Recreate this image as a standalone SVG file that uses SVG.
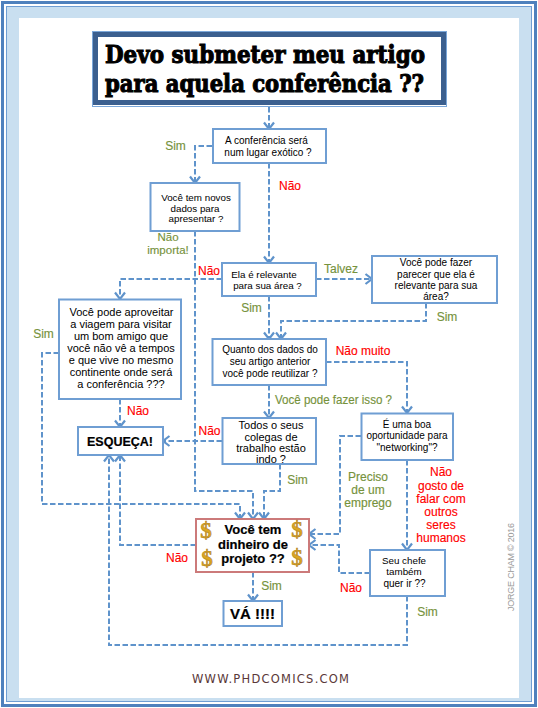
<svg xmlns="http://www.w3.org/2000/svg" width="538" height="708" viewBox="0 0 538 708">
<style>
text{font-family:"Liberation Sans",Arial,sans-serif;text-anchor:middle;fill:#000}
.t{font-size:10px}
.l{font-size:11px}
.m{font-size:9.800px}
.b{font-size:13px;font-weight:bold;stroke:#000;stroke-width:.2}
.box{fill:#fff;stroke:#6f9ed3;stroke-width:2}
.c{fill:none;stroke:#5f93cb;stroke-width:2;stroke-dasharray:5.5 2.5}
.s{font-size:12px;fill:#76923c;stroke:#76923c;stroke-width:.15}
.n{font-size:12px;fill:#f00;stroke:#f00;stroke-width:.15}
.d{font-size:23px;font-weight:bold;fill:#dba621;stroke:#a8791a;stroke-width:.5;font-family:"Liberation Serif",serif}
.h{font-family:"DejaVu Serif",serif;font-weight:bold;font-size:25px;stroke:#000;stroke-width:1.100;text-anchor:start}
</style>
<defs>
<marker id="a" markerUnits="userSpaceOnUse" markerWidth="14" markerHeight="14" refX="10" refY="7" orient="auto">
<path d="M3.500 2L10 7L3.500 12" fill="none" stroke="#5f93cb" stroke-width="2.200"/>
</marker>
</defs>
<g id="frame">
<rect x="0" y="0" width="538" height="708" fill="#fff"/>
<rect x="2.500" y="2.500" width="533" height="703" fill="none" stroke="#4f81bd" stroke-width="3"/>
<rect x="6.500" y="6.500" width="525" height="695" fill="#c9dff0" stroke="#6f9ed3" stroke-width="1"/>
<rect x="19" y="18" width="500" height="680" fill="#fff"/>
</g>
<g id="connectors">
<path class="c" d="M269 107V129" marker-end="url(#a)"/>
<path class="c" d="M212 146H195V183" marker-end="url(#a)"/>
<path class="c" d="M269 163V263" marker-end="url(#a)"/>
<path class="c" d="M195 231V491H253V519" marker-end="url(#a)"/>
<path class="c" d="M222 279H120V299" marker-end="url(#a)"/>
<path class="c" d="M316 279H372" marker-end="url(#a)"/>
<path class="c" d="M269 296V339" marker-end="url(#a)"/>
<path class="c" d="M426 303V321H281V339" marker-end="url(#a)"/>
<path class="c" d="M326 362H407V413" marker-end="url(#a)"/>
<path class="c" d="M269 385V418" marker-end="url(#a)"/>
<path class="c" d="M222 441H163" marker-end="url(#a)"/>
<path class="c" d="M280 464V491H264V519" marker-end="url(#a)"/>
<path class="c" d="M59 353H42V504H240V519" marker-end="url(#a)"/>
<path class="c" d="M120 399V427" marker-end="url(#a)"/>
<path class="c" d="M196 545H120V455" marker-end="url(#a)"/>
<path class="c" d="M407 596V645H109V455" marker-end="url(#a)"/>
<path class="c" d="M361 436H340V534H309" marker-end="url(#a)"/>
<path class="c" d="M407 460V550" marker-end="url(#a)"/>
<path class="c" d="M370 573H339V545H309" marker-end="url(#a)"/>
<path class="c" d="M253 572V601" marker-end="url(#a)"/>
</g>
<g id="n-title">
<rect x="92.500" y="31.500" width="354" height="75" fill="#fff" stroke="#7ba7d9" stroke-width="1"/>
<rect x="95.500" y="34.500" width="348" height="68" fill="#fff" stroke="#3b5f8f" stroke-width="5"/>
<text class="h" x="105" y="63" textLength="320" lengthAdjust="spacingAndGlyphs">Devo submeter  meu artigo</text>
<text class="h" x="105" y="92" textLength="319" lengthAdjust="spacingAndGlyphs">para aquela conferência ??</text>
</g>
<g id="n-exotico">
<rect class="box" x="213" y="129" width="113" height="34"/>
<text class="t" x="266.500" y="144">A conferência  será</text>
<text class="t" x="268" y="155.500">num lugar  exótico  ?</text>
</g>
<g id="n-novos">
<rect class="box" x="150.500" y="183" width="89" height="48"/>
<text class="m" x="196" y="201">Você tem novos</text>
<text class="m" x="195" y="211.500">dados  para</text>
<text class="m" x="196" y="222">apresentar ?</text>
</g>
<g id="n-relevante">
<rect class="box" x="222" y="263" width="94" height="33"/>
<text class="m" x="264" y="278">Ela é relevante</text>
<text class="m" x="267.500" y="289">para sua área  ?</text>
</g>
<g id="n-fazer">
<rect class="box" x="372" y="256" width="125" height="47"/>
<text class="t" x="436" y="266">Você pode  fazer</text>
<text class="t" x="436" y="277.500">parecer que ela é</text>
<text class="t" x="436" y="289">relevante  para sua</text>
<text class="t" x="436" y="300">área?</text>
</g>
<g id="n-aproveitar">
<rect class="box" x="59" y="299.500" width="122" height="99.500"/>
<text class="l" x="121.500" y="316">Você pode aproveitar</text>
<text class="l" x="121" y="328">a viagem para visitar</text>
<text class="l" x="121" y="340">um bom amigo que</text>
<text class="l" x="121" y="352">você não vê a tempos</text>
<text class="l" x="121" y="364">e que vive no mesmo</text>
<text class="l" x="121" y="376">continente onde será</text>
<text class="l" x="121" y="388">a conferência ???</text>
</g>
<g id="n-quanto">
<rect class="box" x="212.500" y="339" width="113.500" height="46"/>
<text class="t" x="270" y="353">Quanto  dos dados do</text>
<text class="t" x="270" y="365">seu artigo  anterior</text>
<text class="t" x="270" y="377">você pode  reutilizar  ?</text>
</g>
<g id="n-esqueca">
<rect class="box" x="78" y="427" width="85" height="28"/>
<text class="b" x="120" y="446" textLength="66" lengthAdjust="spacingAndGlyphs">ESQUEÇA!</text>
</g>
<g id="n-todos">
<rect class="box" x="222.500" y="418" width="93.500" height="46"/>
<text class="l" x="271" y="428.500">Todos  o seus</text>
<text class="l" x="271" y="440.500">colegas de</text>
<text class="l" x="271" y="452">trabalho estão</text>
<text class="l" x="271" y="463">indo ?</text>
</g>
<g id="n-networking">
<rect class="box" x="361.500" y="413.500" width="91.500" height="46.500"/>
<text class="t" x="407" y="427.500">É uma boa</text>
<text class="t" x="407" y="439">oportunidade  para</text>
<text class="t" x="407" y="451">"networking"?</text>
</g>
<g id="n-dinheiro">
<rect x="196" y="519" width="113" height="53" fill="#fff" stroke="#cc7a7a" stroke-width="2"/>
<text class="b" x="253" y="534">Você tem</text>
<text class="b" x="253" y="548.500">dinheiro de</text>
<text class="b" x="253" y="563">projeto ??</text>
<text class="d" x="206" y="538">$</text>
<text class="d" x="207" y="566">$</text>
<text class="d" x="297" y="537">$</text>
<text class="d" x="297" y="565">$</text>
</g>
<g id="n-chefe">
<rect class="box" x="370" y="550" width="75" height="46"/>
<text class="m" x="404" y="564">Seu chefe</text>
<text class="m" x="404" y="575">também</text>
<text class="t" x="404.500" y="587">quer ir ??</text>
</g>
<g id="n-va">
<rect class="box" x="223.500" y="601" width="58.500" height="25"/>
<text class="b" x="252.500" y="619" style="font-size:15px">VÁ !!!!</text>
</g>
<g id="labels">
<text class="s" x="175.500" y="150">Sim</text>
<text class="n" x="290" y="189.500">Não</text>
<text class="s" x="168" y="241" style="font-size:11.500px">Não</text>
<text class="s" x="168" y="253.500" style="font-size:11.500px">importa!</text>
<text class="n" x="209" y="275">Não</text>
<text class="s" x="341" y="273">Talvez</text>
<text class="s" x="251.500" y="312">Sim</text>
<text class="s" x="447" y="321">Sim</text>
<text class="s" x="43.500" y="338">Sim</text>
<text class="n" x="363" y="355">Não muito</text>
<text class="s" x="333.500" y="404" textLength="117" lengthAdjust="spacingAndGlyphs">Você pode fazer isso ?</text>
<text class="n" x="138" y="415">Não</text>
<text class="n" x="209.500" y="435">Não</text>
<text class="s" x="297.500" y="484">Sim</text>
<text class="s" x="368" y="481">Preciso</text>
<text class="s" x="368" y="494">de um</text>
<text class="s" x="368" y="507">emprego</text>
<text class="n" x="441" y="476">Não</text>
<text class="n" x="441" y="490">gosto de</text>
<text class="n" x="441" y="503">falar com</text>
<text class="n" x="441" y="515.500">outros</text>
<text class="n" x="441" y="528.500">seres</text>
<text class="n" x="441" y="541.500">humanos</text>
<text class="n" x="177" y="562">Não</text>
<text class="n" x="351" y="592">Não</text>
<text class="s" x="271.500" y="590">Sim</text>
<text class="s" x="427.500" y="616">Sim</text>
<text x="270.500" y="683" textLength="157" style="font-family:'DejaVu Sans',sans-serif;font-size:11.500px;fill:#5a3838">WWW.PHDCOMICS.COM</text>
<text transform="translate(514 567) rotate(-90)" textLength="88" style="font-size:9px;fill:#999">JORGE CHAM © 2016</text>
</g>
</svg>
